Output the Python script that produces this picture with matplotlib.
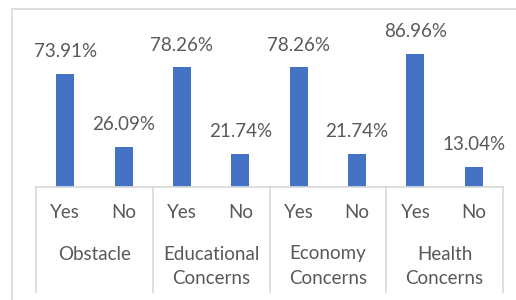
import matplotlib.pyplot as plt
from matplotlib.patches import Rectangle

plt.rcParams['font.family'] = ['Lato', 'DejaVu Sans']

groups = ["Obstacle", "Educational\nConcerns", "Economy\nConcerns", "Health\nConcerns"]
answers = ["Yes", "No"]
values = [73.91, 26.09, 78.26, 21.74, 78.26, 21.74, 86.96, 13.04]

bar_color = "#4472C4"
text_color = "#595959"
line_color = "#D9D9D9"

W, H = 516, 300
fig = plt.figure(figsize=(W / 100, H / 100), dpi=100)

# outer chart border (right/bottom edges run off the picture)
fig.patches.append(Rectangle((11.5 / W, -0.05), 1.2, 1 - 8.5 / H + 0.05,
                             transform=fig.transFigure, fill=False,
                             edgecolor=line_color, linewidth=1.2))

base_y = 187
top_y = 34
ax = fig.add_axes([36 / W, 1 - base_y / H, (503 - 36) / W, (base_y - top_y) / H])

x = list(range(len(values)))
ax.bar(x, values, width=0.31, color=bar_color)
ax.set_xlim(-0.5, len(values) - 0.5)
ax.set_ylim(0, 100)

fs = 13.5
for xi, v in zip(x, values):
    ax.annotate("%.2f%%" % v, (xi, v), xytext=(0, 16), textcoords="offset points",
                ha="center", va="center", fontsize=fs, color=text_color,
                annotation_clip=False)

for s in ax.spines.values():
    s.set_visible(False)
ax.set_xticks([])
ax.set_yticks([])

# multi-level category axis
px = 1.0 / (base_y - top_y)
ax.axhline(0, color=line_color, linewidth=1.2, clip_on=False)
trans = ax.get_xaxis_transform()
for sep in [-0.5, 1.5, 3.5, 5.5, 7.5]:
    ax.plot([sep, sep], [0, -(292 - base_y) * px], color=line_color,
            linewidth=1.2, transform=trans, clip_on=False)

for i, xi in enumerate(x):
    ax.text(xi, -(213 - base_y) * px, answers[i % 2], transform=trans,
            ha="center", va="center", fontsize=fs, color=text_color)

for g, name in enumerate(groups):
    for k, line in enumerate(name.split("\n")):
        ax.text(2 * g + 0.5, -(254 + 25 * k - base_y) * px, line, transform=trans,
                ha="center", va="center", fontsize=fs, color=text_color)

fig.savefig("out.png", dpi=100)
